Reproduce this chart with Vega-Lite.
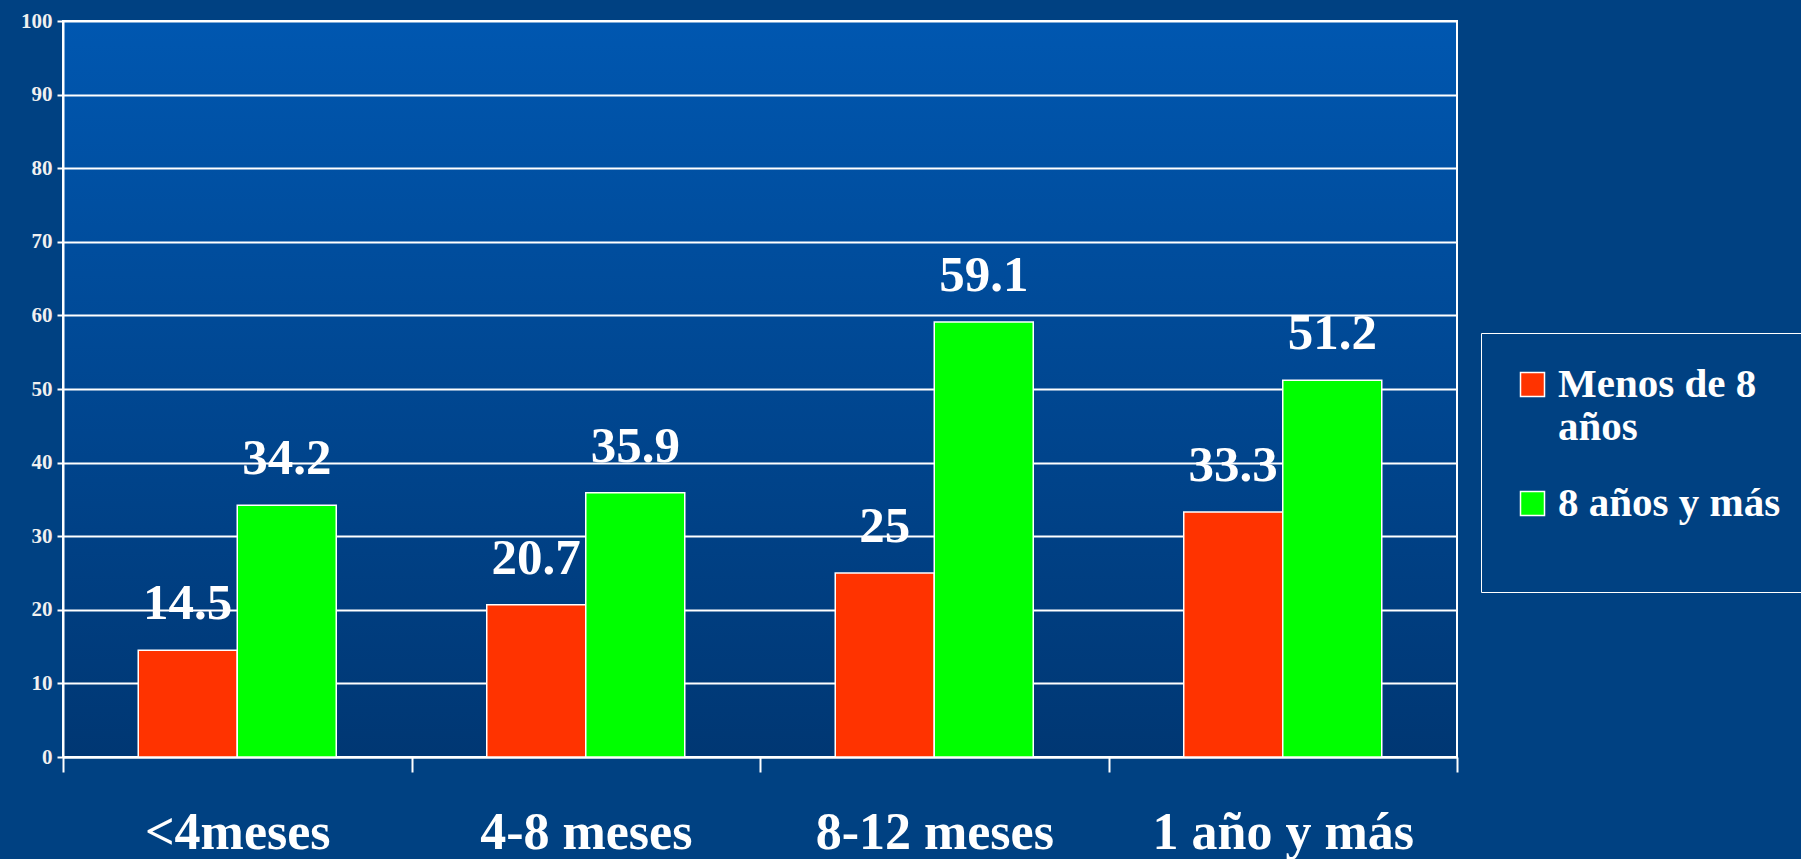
{
  "$schema": "https://vega.github.io/schema/vega-lite/v6.json",
  "autosize": {"type": "none"},
  "padding": {"left": 63, "top": 21, "right": 344, "bottom": 102},
  "width": 1394,
  "height": 736,
  "background": "#004182",
  "data": {
    "values": [
      {"periodo": "<4meses", "grupo": "Menos de 8 años", "valor": 14.5},
      {"periodo": "<4meses", "grupo": "8 años y más", "valor": 34.2},
      {"periodo": "4-8 meses", "grupo": "Menos de 8 años", "valor": 20.7},
      {"periodo": "4-8 meses", "grupo": "8 años y más", "valor": 35.9},
      {"periodo": "8-12 meses", "grupo": "Menos de 8 años", "valor": 25},
      {"periodo": "8-12 meses", "grupo": "8 años y más", "valor": 59.1},
      {"periodo": "1 año y más", "grupo": "Menos de 8 años", "valor": 33.3},
      {"periodo": "1 año y más", "grupo": "8 años y más", "valor": 51.2}
    ]
  },
  "encoding": {
    "x": {
      "field": "periodo",
      "type": "nominal",
      "sort": ["<4meses", "4-8 meses", "8-12 meses", "1 año y más"],
      "scale": {"paddingInner": 0, "paddingOuter": 0},
      "axis": {
        "title": null,
        "labelAngle": 0,
        "labelFont": "Liberation Serif",
        "labelFontWeight": "bold",
        "labelFontSize": 52,
        "labelColor": "white",
        "labelBaseline": "alphabetic",
        "labelPadding": 76,
        "labelLimit": 400,
        "domain": true,
        "domainColor": "white",
        "domainWidth": 2,
        "ticks": true,
        "tickBand": "extent",
        "tickSize": 15,
        "tickColor": "white",
        "tickWidth": 2,
        "grid": false
      }
    },
    "xOffset": {
      "field": "grupo",
      "type": "nominal",
      "sort": ["Menos de 8 años", "8 años y más"],
      "scale": {"paddingInner": 0, "paddingOuter": 0.76}
    },
    "y": {
      "field": "valor",
      "type": "quantitative",
      "scale": {"domain": [0, 100], "nice": false},
      "axis": {
        "title": null,
        "values": [0, 10, 20, 30, 40, 50, 60, 70, 80, 90, 100],
        "labelFont": "Liberation Serif",
        "labelFontWeight": "bold",
        "labelFontSize": 21,
        "labelColor": "#f0f0f0",
        "labelPadding": 5,
        "domain": true,
        "domainColor": "white",
        "domainWidth": 2,
        "ticks": true,
        "tickSize": 6,
        "tickColor": "white",
        "tickWidth": 2,
        "grid": true,
        "gridColor": "white",
        "gridWidth": 2,
        "gridOpacity": 1
      }
    }
  },
  "layer": [
    {
      "mark": {"type": "bar", "stroke": "white", "strokeWidth": 1.5, "opacity": 1},
      "encoding": {
        "color": {
          "field": "grupo",
          "type": "nominal",
          "sort": ["Menos de 8 años", "8 años y más"],
          "scale": {"domain": ["Menos de 8 años", "8 años y más"], "range": ["#ff3300", "#00ff00"]},
          "legend": {
            "title": " ",
            "titleOrient": "bottom",
            "titleFontSize": 29,
            "titlePadding": 8,
            "orient": "none",
            "legendX": 1418,
            "legendY": 312,
            "padding": 31,
            "strokeColor": "white",
            "labelFont": "Liberation Serif",
            "labelFontWeight": "bold",
            "labelFontSize": 41,
            "labelColor": "white",
            "labelLimit": 500,
            "labelOffset": 5,
            "labelExpr": "datum.label == 'Menos de 8 años' ? ['Menos de 8', 'años'] : datum.label",
            "symbolType": "square",
            "symbolSize": 576,
            "symbolStrokeColor": "white",
            "symbolStrokeWidth": 1.5,
            "symbolOpacity": 1,
            "rowPadding": 34
          }
        }
      }
    },
    {
      "mark": {
        "type": "text",
        "font": "Liberation Serif",
        "fontWeight": "bold",
        "fontSize": 51,
        "color": "white",
        "baseline": "alphabetic",
        "align": "center",
        "dy": -31
      },
      "encoding": {
        "text": {"field": "valor", "type": "nominal"}
      }
    }
  ],
  "config": {
    "view": {
      "stroke": "white",
      "strokeWidth": 2,
      "fill": {
        "gradient": "linear",
        "x1": 0, "y1": 0, "x2": 0, "y2": 1,
        "stops": [
          {"offset": 0, "color": "#0057b0"},
          {"offset": 1, "color": "#003773"}
        ]
      }
    }
  }
}
